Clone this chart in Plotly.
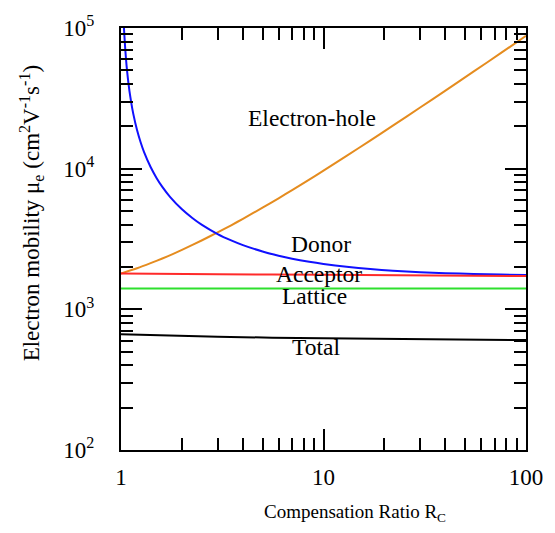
import plotly.graph_objects as go

# ---- data ----
donor_R = [1.034, 1.04, 1.05, 1.065, 1.08, 1.1, 1.125, 1.15, 1.2, 1.25, 1.3, 1.4, 1.5,
           1.6, 1.75, 2.0, 2.25, 2.5, 3.0, 3.5, 4.0, 5.0, 6.0, 7.0, 8.5, 10, 13, 17,
           22, 30, 40, 55, 75, 100]
donor_mu = [100000, 87200, 70100, 54300, 44500, 35900, 29100, 24500, 18800, 15400, 13100,
            10270, 8560, 7420, 6280, 5140, 4460, 4000, 3430, 3090, 2860, 2575, 2405,
            2290, 2176, 2100, 2005, 1934, 1883, 1838, 1808, 1783, 1766, 1755]

eh_R = [1, 1.2, 1.4, 1.6, 1.8, 2.0, 2.5, 3.0, 3.5, 4.0, 5.0, 6.0, 7.0, 8.5, 10, 13,
        17, 22, 30, 40, 55, 75, 100]
eh_mu = [1800, 1960, 2130, 2300, 2470, 2645, 3085, 3525, 3960, 4400, 5280, 6160, 7040,
         8360, 9680, 12320, 15840, 20200, 27200, 35900, 48900, 66200, 87900]

acc_R = [1, 3, 10, 100]
acc_mu = [1798, 1775, 1760, 1726]

lat_R = [1, 100]
lat_mu = [1406, 1406]

tot_R = [1, 3, 10, 100]
tot_mu = [666, 638, 622, 605]

x_ticks = [1, 10, 100]
x_ticklabels = ["1", "10", "100"]
y_ticks = [100, 1000, 10000, 100000]
y_ticklabels = ["10<sup>2</sup>", "10<sup>3</sup>", "10<sup>4</sup>", "10<sup>5</sup>"]
x_minor = [2, 3, 4, 5, 6, 7, 8, 9, 20, 30, 40, 50, 60, 70, 80, 90]
y_minor = [m * d for d in (100, 1000, 10000) for m in range(2, 10)]

labels = ["Electron-hole", "Donor", "Acceptor", "Lattice", "Total"]
label_pos = [(0.472, 0.786), (0.495, 0.489), (0.489, 0.418), (0.477, 0.366), (0.482, 0.243)]

FONT = "Liberation Serif, Times New Roman, serif"

fig = go.Figure()
series = [
    (eh_R, eh_mu, "#E58C1F"),
    (donor_R, donor_mu, "#1010FF"),
    (acc_R, acc_mu, "#FF2A2A"),
    (lat_R, lat_mu, "#2EE02E"),
    (tot_R, tot_mu, "#000000"),
]
for xs, ys, c in series:
    fig.add_trace(go.Scatter(x=xs, y=ys, mode="lines",
                             line=dict(color=c, width=2, shape="spline", smoothing=0.6),
                             showlegend=False, hoverinfo="skip", cliponaxis=True))

axis_common = dict(
    type="log", showgrid=False, zeroline=False,
    showline=True, linecolor="black", linewidth=2,
    mirror="allticks", ticks="inside", ticklen=21, tickwidth=1.8, tickcolor="black",
    tickfont=dict(family=FONT, size=23, color="black"),
)

fig.update_xaxes(**axis_common, range=[0, 2], tickvals=x_ticks, ticktext=x_ticklabels,
                 ticklabelstandoff=5,
                 minor=dict(ticks="inside", ticklen=12, tickwidth=1.8, tickcolor="black",
                            tickvals=x_minor, showgrid=False))
fig.update_yaxes(**axis_common, range=[2, 5], tickvals=y_ticks, ticktext=y_ticklabels,
                 ticklabelstandoff=20,
                 minor=dict(ticks="inside", ticklen=12, tickwidth=1.8, tickcolor="black",
                            tickvals=y_minor, showgrid=False))

for txt, (px, py) in zip(labels, label_pos):
    fig.add_annotation(text=txt, x=px, y=py, xref="paper", yref="paper",
                       showarrow=False, xanchor="center", yanchor="middle",
                       font=dict(family=FONT, size=23.5, color="black"))

fig.add_annotation(text="Compensation Ratio R<sub>C</sub>", x=0.577, y=-0.15,
                   xref="paper", yref="paper", showarrow=False,
                   xanchor="center", yanchor="middle",
                   font=dict(family=FONT, size=19, color="black"))
fig.add_annotation(text="Electron mobility μ<sub>e</sub> (cm<sup>2</sup>V<sup>-1</sup>s<sup>-1</sup>)",
                   x=-0.221, y=0.562, xref="paper", yref="paper", showarrow=False,
                   xanchor="center", yanchor="middle", textangle=-90,
                   font=dict(family=FONT, size=23, color="black"))

fig.update_layout(width=555, height=533, autosize=False,
                  margin=dict(l=121, r=27, t=21, b=83),
                  paper_bgcolor="white", plot_bgcolor="white")

fig.write_html("out.html")
